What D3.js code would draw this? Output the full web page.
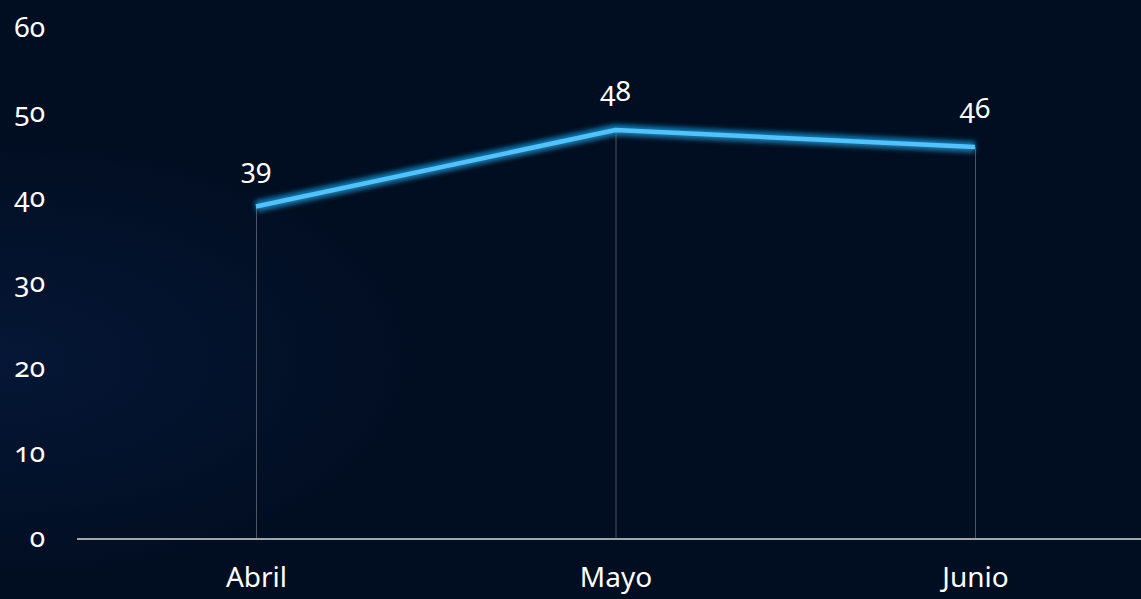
<!DOCTYPE html>
<html><head><meta charset="utf-8">
<script src="https://cdn.jsdelivr.net/npm/d3@7"></script>
<style>
html,body{margin:0;padding:0;background:#010d20;overflow:hidden}
svg{display:block}
.num{font-family:"Noto Sans","Open Sans","Lato",sans-serif;font-variant-numeric:oldstyle-nums;font-feature-settings:"onum" 1}
</style></head>
<body>
<svg id="c" width="1141" height="599"></svg>
<script>
const categories = ["Abril", "Mayo", "Junio"];
const values = [39, 48, 46];
const yTicks = [0, 10, 20, 30, 40, 50, 60];

const W = 1141, H = 599;
const svg = d3.select("#c");
const defs = svg.append("defs");
const rg = defs.append("radialGradient").attr("id","bg").attr("cx","0%").attr("cy","60%").attr("r","40%");
rg.append("stop").attr("offset","0%").attr("stop-color","#051736");
rg.append("stop").attr("offset","100%").attr("stop-color","#010d20");
const glow = defs.append("filter").attr("id","glow").attr("x","-10%").attr("y","-50%").attr("width","120%").attr("height","200%");
glow.append("feGaussianBlur").attr("in","SourceGraphic").attr("stdDeviation","2.5");

svg.append("rect").attr("width",W).attr("height",H).attr("fill","#010d20");
svg.append("rect").attr("width",W).attr("height",H).attr("fill","url(#bg)");

const x = d3.scalePoint().domain(categories).range([256, 975]);
const y = d3.scaleLinear().domain([0, 60]).range([538, 28]);

// y axis labels
const ya = svg.append("g").attr("transform","translate(45,0)")
  .call(d3.axisLeft(y).tickValues(yTicks).tickSize(0).tickPadding(0));
ya.select(".domain").remove();
ya.selectAll("text").attr("class","num").attr("fill","#ffffff").style("font-size","28px").attr("text-anchor","end");

// drop lines
svg.append("g").selectAll("line").data(values).join("line")
  .attr("x1",(d,i)=>x(categories[i])+0.5).attr("x2",(d,i)=>x(categories[i])+0.5)
  .attr("y1",d=>y(d)).attr("y2",y(0))
  .attr("stroke","#4d5562").attr("stroke-width",1);

// x axis
const xa = svg.append("g").attr("transform",`translate(0,${y(0)+1})`)
  .call(d3.axisBottom(x).tickSize(0).tickPadding(28));
xa.select(".domain").remove();
xa.append("line").attr("x1",77).attr("x2",W).attr("y1",0).attr("y2",0).attr("stroke","#d9d9d9").attr("stroke-width",1.5);
xa.selectAll("text").attr("fill","#ffffff").style("font-family","\"Noto Sans\",sans-serif").style("font-size","28px").attr("dy","0.71em");

// line with glow
const line = d3.line().x((d,i)=>x(categories[i])).y(d=>y(d));
svg.append("path").datum(values).attr("d",line).attr("fill","none")
  .attr("stroke","#1a8cc8").attr("stroke-width",11).attr("stroke-opacity",0.85).attr("stroke-linejoin","round")
  .attr("filter","url(#glow)");
svg.append("path").datum(values).attr("d",line).attr("fill","none")
  .attr("stroke","#53c2fb").attr("stroke-width",4.5).attr("stroke-linejoin","round");

// data labels
svg.append("g").selectAll("text").data(values).join("text")
  .attr("class","num")
  .attr("x",(d,i)=>x(categories[i]))
  .attr("y",d=>y(d)-29)
  .attr("text-anchor","middle").attr("fill","#ffffff").style("font-size","28px")
  .text(d=>d);
</script>
</body></html>
